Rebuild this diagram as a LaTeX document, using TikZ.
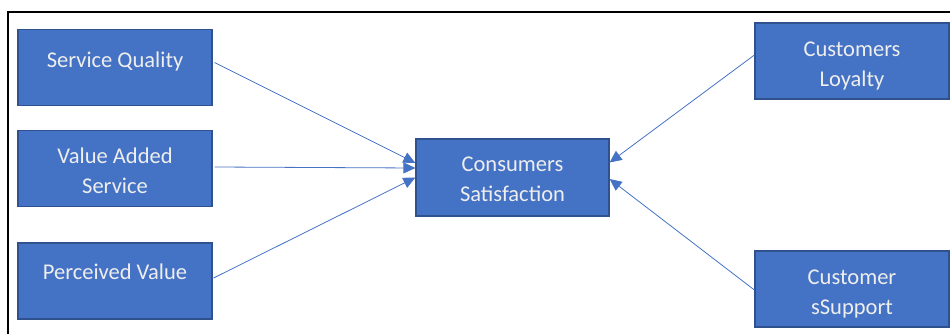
\documentclass[tikz,border=0pt]{standalone}
\usepackage{fontspec}
\setmainfont{Carlito}
\usetikzlibrary{calc,arrows.meta}
\definecolor{boxfill}{HTML}{4472C4}
\definecolor{boxline}{HTML}{2F528F}
\definecolor{boxtext}{HTML}{EEEEEE}
\definecolor{linkcol}{HTML}{4472C4}
% centred block of lines, raised by #1 without changing its size
\newcommand{\boxtxt}[2]{\raisebox{#1}[\height][\depth]{\begin{tabular}{@{}c@{}}#2\end{tabular}}}
\begin{document}
\begin{tikzpicture}[x=1pt,y=-1pt,
  factor/.style={draw=boxline, line width=1.2pt, fill=boxfill, text=boxtext,
    minimum width=194pt, minimum height=76pt, inner sep=0pt, align=center,
    font=\fontsize{22.5}{30}\selectfont},
  link/.style={draw=linkcol, line width=0.8pt,
    -{Triangle[length=12pt,width=11pt]}}]
  \useasboundingbox (0,0) rectangle (950,334);
  % open frame: top and left rules
  \draw[line width=2pt] (8,334) -- (8,12) -- (950,12);

  % left-hand factors
  \node[factor] (sq) at (115,67.5) {\boxtxt{6pt}{Service Quality}};
  \node[factor] (va) at (115,168.5) {\boxtxt{-4pt}{Value Added\\Service}};
  \node[factor] (pv) at (115,281) {\boxtxt{8pt}{Perceived Value}};

  % central outcome
  \node[factor, minimum width=193pt, minimum height=77pt] (cs) at (512.5,177.5) {\boxtxt{-3pt}{Consumers\\Satisfaction}};

  % right-hand factors
  \node[factor] (cl) at (852,61) {\boxtxt{-5pt}{Customers\\Loyalty}};
  \node[factor] (su) at (852,289) {\boxtxt{-4pt}{Customer\\sSupport}};

  % links into the central box
  \draw[link] ($(sq.east)+(2,-5)$) -- ($(cs.west)+(0,-14.5)$);
  \draw[link] ($(va.east)+(2,-1.5)$) -- ($(cs.west)+(0,-9.5)$);
  \draw[link] ($(pv.east)+(1,-3)$) -- ($(cs.west)+(0,0)$);
  \draw[link] ($(cl.west)+(0,-6)$) -- ($(cs.east)+(0,-15)$);
  \draw[link] ($(su.west)+(0,1)$) -- ($(cs.east)+(0,1.5)$);
\end{tikzpicture}
\end{document}
